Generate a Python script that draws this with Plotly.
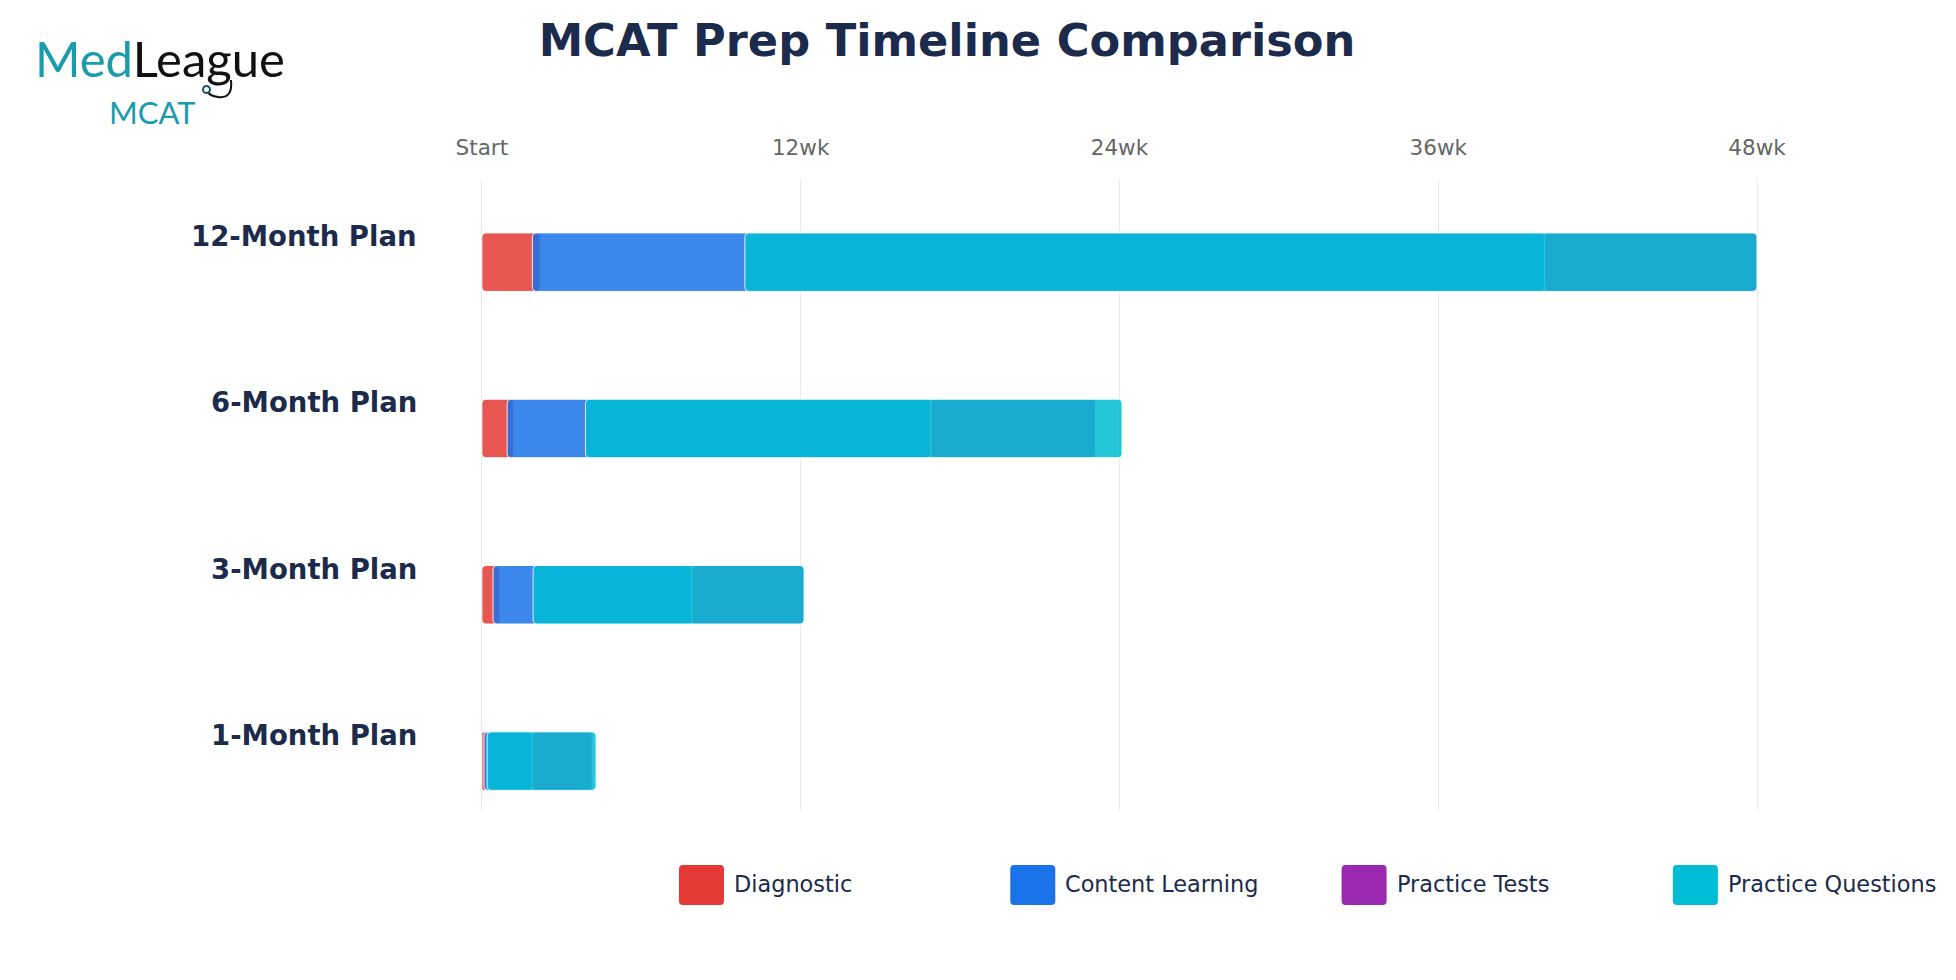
import plotly.graph_objects as go

# ---------------- data ----------------
plans = ["1-Month Plan", "3-Month Plan", "6-Month Plan", "12-Month Plan"]
phases = ["Diagnostic", "Content Learning", "Practice Tests", "Practice Questions"]
phase_colors = ["#e53935", "#1a73e8", "#9c27b0", "#00bcd4"]

# weeks from start (per plan, ordered as `plans`)
diagnostic_start = [0, 0, 0, 0]
diagnostic_end = [0.15, 0.68, 1.2, 2.2]
content_start = [0.08, 0.42, 0.95, 1.9]
content_end = [1.9, 7.9, 16.9, 40]
tests_start = [1.9, 7.9, 16.9, 40]
tests_end = [4.15, 12.13, 23.1, 48]
questions_start = [0.2, 1.93, 3.9, 9.9]
questions_end = [4.3, 12.13, 24.1, 48]

tick_vals = [0, 12, 24, 36, 48]
tick_text = ["Start", "12wk", "24wk", "36wk", "48wk"]

title_text = "MCAT Prep Timeline Comparison"

# ---------------- layout constants ----------------
W, H = 1956, 980
L, R, T, B = 442, 1850, 179, 811
FONT = "DejaVu Sans"
NAVY = "#1c2a4b"


def px_x(p):
    return (p - L) / (R - L)


def px_y(p):
    return (B - p) / (B - T)


segments = [
    (diagnostic_start, diagnostic_end),
    (content_start, content_end),
    (tests_start, tests_end),
    (questions_start, questions_end),
]

fig = go.Figure()
for name, color, (s, e) in zip(phases, phase_colors, segments):
    fig.add_trace(go.Bar(
        name=name,
        y=plans,
        x=[b - a for a, b in zip(s, e)],
        base=s,
        orientation="h",
        width=0.352,
        opacity=0.85,
        marker=dict(color=color, cornerradius=4, line=dict(color="white", width=1)),
        showlegend=False,
        hovertemplate=name + ": %{base}–%{x}<extra></extra>",
    ))

annotations = []
shapes = []

# plan labels (above bar centre, right-aligned)
for p in plans:
    annotations.append(dict(
        x=px_x(419), xref="paper", xanchor="right",
        y=p, yref="y", yanchor="middle", yshift=26,
        text=f"<b>{p}</b>", showarrow=False,
        font=dict(family=FONT, size=27.5, color=NAVY),
    ))

# custom legend
for i, (name, color) in enumerate(zip(phases, phase_colors)):
    x0 = 679 + i * 331.3
    x1 = x0 + 45
    y0, y1 = 865, 905
    r = 4
    path = (
        f"M {px_x(x0 + r)},{px_y(y0)} L {px_x(x1 - r)},{px_y(y0)} "
        f"Q {px_x(x1)},{px_y(y0)} {px_x(x1)},{px_y(y0 + r)} "
        f"L {px_x(x1)},{px_y(y1 - r)} Q {px_x(x1)},{px_y(y1)} {px_x(x1 - r)},{px_y(y1)} "
        f"L {px_x(x0 + r)},{px_y(y1)} Q {px_x(x0)},{px_y(y1)} {px_x(x0)},{px_y(y1 - r)} "
        f"L {px_x(x0)},{px_y(y0 + r)} Q {px_x(x0)},{px_y(y0)} {px_x(x0 + r)},{px_y(y0)} Z"
    )
    shapes.append(dict(type="path", path=path, xref="paper", yref="paper",
                       fillcolor=color, line=dict(width=0)))
    annotations.append(dict(
        x=px_x(x0 + 53), xref="paper", xanchor="left",
        y=px_y(884), yref="paper", yanchor="middle",
        text=name, showarrow=False,
        font=dict(family=FONT, size=22.4, color=NAVY),
    ))

# logo
annotations.append(dict(
    x=px_x(33), xref="paper", xanchor="left",
    y=px_y(58), yref="paper", yanchor="middle",
    text='<span style="color:#1a9cad">Med</span><span style="color:#111111">League</span>',
    showarrow=False,
    font=dict(family="Lato", size=49, color="#111111"),
))
annotations.append(dict(
    x=px_x(107), xref="paper", xanchor="left",
    y=px_y(112), yref="paper", yanchor="middle",
    text="MCAT", showarrow=False,
    font=dict(family="Lato", size=31, color="#1a9cad"),
))
steth = (
    f"M {px_x(231)},{px_y(80)} Q {px_x(233)},{px_y(99)} {px_x(218)},{px_y(97)} "
    f"Q {px_x(210)},{px_y(96)} {px_x(208)},{px_y(92)}"
)
shapes.append(dict(type="path", path=steth, xref="paper", yref="paper",
                   line=dict(color="#111111", width=2)))
shapes.append(dict(type="circle", xref="paper", yref="paper",
                   x0=px_x(203), x1=px_x(210), y0=px_y(86), y1=px_y(93),
                   line=dict(color="#1a5560", width=2), fillcolor="white"))

fig.update_layout(
    width=W, height=H,
    margin=dict(l=L, r=W - R, t=T, b=H - B, pad=0),
    paper_bgcolor="white", plot_bgcolor="white",
    barmode="overlay",
    showlegend=False,
    title=dict(
        text=f"<b>{title_text}</b>",
        xref="container", yref="container",
        x=947 / W, xanchor="center",
        y=1 - 40 / H, yanchor="middle",
        font=dict(family=FONT, size=44.7, color=NAVY),
    ),
    xaxis=dict(
        side="top", range=[-1.5, 51.5],
        tickvals=tick_vals, ticktext=tick_text,
        showgrid=True, gridcolor="#ebebeb", gridwidth=1,
        zeroline=False, showline=False, ticks="",
        ticklabelstandoff=19,
        tickfont=dict(family=FONT, size=21.5, color="#666666"),
    ),
    yaxis=dict(
        type="category", categoryorder="array", categoryarray=plans,
        range=[-0.3, 3.5], showticklabels=False, showgrid=False,
        zeroline=False, showline=False,
    ),
    annotations=annotations,
    shapes=shapes,
    font=dict(family=FONT),
)

fig.write_html("out.html")
